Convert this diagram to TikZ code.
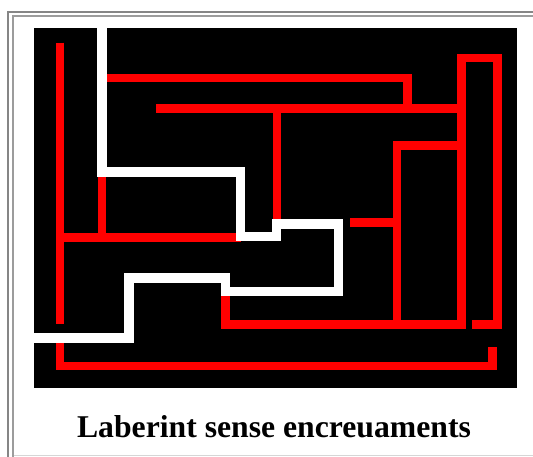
\documentclass[tikz,border=0pt]{standalone}
\usepackage{xcolor}
\usepackage{fontspec}
\setmainfont{Liberation Serif}
\usepackage{tikz}
\usetikzlibrary{calc}
\definecolor{mazered}{HTML}{FF0000}
\definecolor{mazebg}{HTML}{000000}
\definecolor{trailwhite}{HTML}{FFFFFF}
\definecolor{frameouter}{HTML}{868686}
\definecolor{frameinner}{HTML}{9C9C9C}
\definecolor{framebase}{HTML}{D6D6D6}
\tikzset{
  wall/.style={draw=mazered, line width=8.5pt, line join=miter, line cap=butt},
  trail/.style={draw=trailwhite, line width=9.5pt, line join=miter, line cap=butt},
  frameln/.style={line width=2pt, line cap=butt},
  caption/.style={font=\fontsize{31.7}{38}\selectfont\bfseries, text=black, inner sep=0pt, anchor=base},
}

\begin{document}
\begin{tikzpicture}[x=1pt, y=-1pt]

\useasboundingbox (0,0) rectangle (533,457);
\fill[white] (0,0) rectangle (533,457);

% frame
\draw[frameln, frameouter] (7,12) -- (533,12);
\draw[frameln, frameouter] (8,11) -- (8,457);
\draw[frameln, frameinner] (12,16) -- (533,16);
\draw[frameln, frameinner] (13,15) -- (13,457);
\draw[framebase, line width=1pt] (14,455.5) -- (533,455.5);

% maze field
\fill[mazebg] (34,28) rectangle (517,388);

% red walls
\draw[wall] (60.2,42.7) -- (60.2,323.5);
\draw[wall] (60.2,342.5) -- (60.2,366.2) -- (492.7,366.2) -- (492.7,346.7);
\draw[wall] (60.2,237.5) -- (240.7,237.5);
\draw[wall] (102,172) -- (102,237.5);
\draw[wall] (102,77.8) -- (407.7,77.8) -- (407.7,108.7);
\draw[wall] (156,108.7) -- (461.3,108.7);
\draw[wall] (277,108.7) -- (277,223.8);
\draw[wall] (225.3,291.3) -- (225.3,324.7) -- (461.3,324.7) -- (461.3,58)
  -- (497.7,58) -- (497.7,324.7) -- (472.3,324.7);
\draw[wall] (461.3,145.3) -- (396.8,145.3) -- (396.8,324.7);
\draw[wall] (350,222.7) -- (396.8,222.7);

% white trail
\draw[trail] (102,28) -- (102,172.2) -- (240.7,172.2) -- (240.7,236.4)
  -- (276.3,236.4) -- (276.3,223.8) -- (338.3,223.8) -- (338.3,291.3)
  -- (225.3,291.3) -- (225.3,278) -- (129,278) -- (129,338) -- (34,338);

\node[caption] (title) at (274,437) {Laberint sense encreuaments};

\end{tikzpicture}
\end{document}
